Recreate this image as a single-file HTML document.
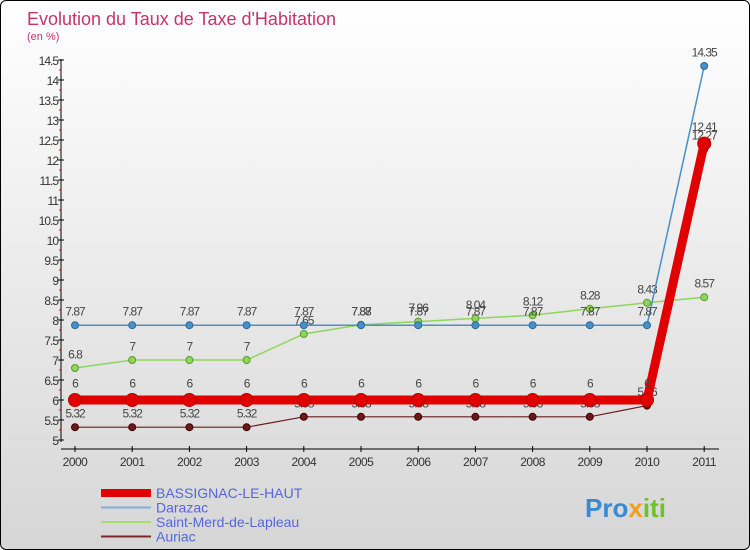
<!DOCTYPE html>
<html><head><meta charset="utf-8"><style>
body{margin:0}
#c{width:748px;height:548px;border:1px solid #000;border-radius:6px;overflow:hidden;background:linear-gradient(#fff,#d6d6d6);position:relative;font-family:"Liberation Sans",sans-serif}
</style></head><body>
<div id="c">
<svg id="s" width="748" height="548" xmlns="http://www.w3.org/2000/svg"></svg>
</div>
<script>
const years=[2000,2001,2002,2003,2004,2005,2006,2007,2008,2009,2010,2011];
const bassignac=[6,6,6,6,6,6,6,6,6,6,6,12.41];
const darazac=[7.87,7.87,7.87,7.87,7.87,7.87,7.87,7.87,7.87,7.87,7.87,14.35];
const saintMerd=[6.8,7,7,7,7.65,7.88,7.96,8.04,8.12,8.28,8.43,8.57];
const auriac=[5.32,5.32,5.32,5.32,5.58,5.58,5.58,5.58,5.58,5.58,5.86,12.27];
const yTicks=[5,5.5,6,6.5,7,7.5,8,8.5,9,9.5,10,10.5,11,11.5,12,12.5,13,13.5,14,14.5];
const NS="http://www.w3.org/2000/svg";
const s=document.getElementById('s');
const X=i=>74+i*57.2, Y=v=>439-(v-5)*40;
function el(t,a,p){const e=document.createElementNS(NS,t);for(const k in a)e.setAttribute(k,a[k]);(p||s).appendChild(e);return e;}
function tx(x,y,str,a){const e=el('text',Object.assign({x:x,y:y},a));e.textContent=str;return e;}
let t=tx(26,24,"Evolution du Taux de Taxe d'Habitation",{fill:'#c8336b','font-size':18});

t=tx(26,39,"(en %)",{fill:'#c8336b','font-size':11});

const ax=el('g',{});
el('line',{x1:60,y1:58,x2:60,y2:441,stroke:'#000'},ax);
for(let v=5;v<=14.5;v+=0.25){const major=Math.abs(v*2-Math.round(v*2))<1e-6;
el('line',{x1:major?57:58,y1:Y(v),x2:major?63:60,y2:Y(v),stroke:major?'#000':'#e00'},ax);}
yTicks.forEach(v=>{const l=tx(57,Y(v)+5,String(v),{fill:'#333','font-size':12,'text-anchor':'end','letter-spacing':'-1'},ax);});
const xa=el('g',{});
el('line',{x1:60,y1:448,x2:718,y2:448,stroke:'#000'},xa);
years.forEach((y,i)=>{el('line',{x1:X(i),y1:445,x2:X(i),y2:451,stroke:'#000'},xa);tx(X(i),465,String(y),{fill:'#333','font-size':12,'text-anchor':'middle','letter-spacing':'-0.5'},xa);});
function series(d,name,col,w,r,dark){const g=el('g',{});
el('polyline',{points:d.map((v,i)=>X(i)+','+Y(v)).join(' '),fill:'none',stroke:col,'stroke-width':w},g);
d.forEach((v,i)=>{const c=el('circle',{cx:X(i),cy:Y(v),r:r,fill:col,stroke:dark,'stroke-width':1},g);
tx(X(i),Y(v)-(r+6),String(v),{fill:'#444','font-size':12,'text-anchor':'middle','letter-spacing':'-1'},g);});}
series(auriac,'auriac-series','#6b1a1a',1.2,3.5,'#400');
series(saintMerd,'saint-merd-series','#8fd65a',1.5,3.5,'#5a9a30');
series(darazac,'darazac-series','#4a90c8',1.5,3.5,'#2a6a9a');
series(bassignac,'bassignac-series','#e00000',9,6.5,'#b00');
const leg=[['BASSIGNAC-LE-HAUT','#e00000',8],['Darazac','#7fb0d8',2],['Saint-Merd-de-Lapleau','#a0e070',2],['Auriac','#7a2a2a',2]];
leg.forEach((l,i)=>{const g=el('g',{});
const y=492+i*14.5;el('line',{x1:100,y1:y,x2:150,y2:y,stroke:l[1],'stroke-width':l[2]},g);
tx(155,y+5,l[0],{fill:'#5566dd','font-size':14});});
const lg=el('g',{});
const lt=tx(584,516,'',{'font-size':26,'font-weight':'bold'},lg);
[['Pro','#3a8ad0'],['x','#f0a020'],['iti','#70c030']].forEach(p=>{const sp=el('tspan',{fill:p[1]},lt);sp.textContent=p[0];});
</script>
</body></html>
